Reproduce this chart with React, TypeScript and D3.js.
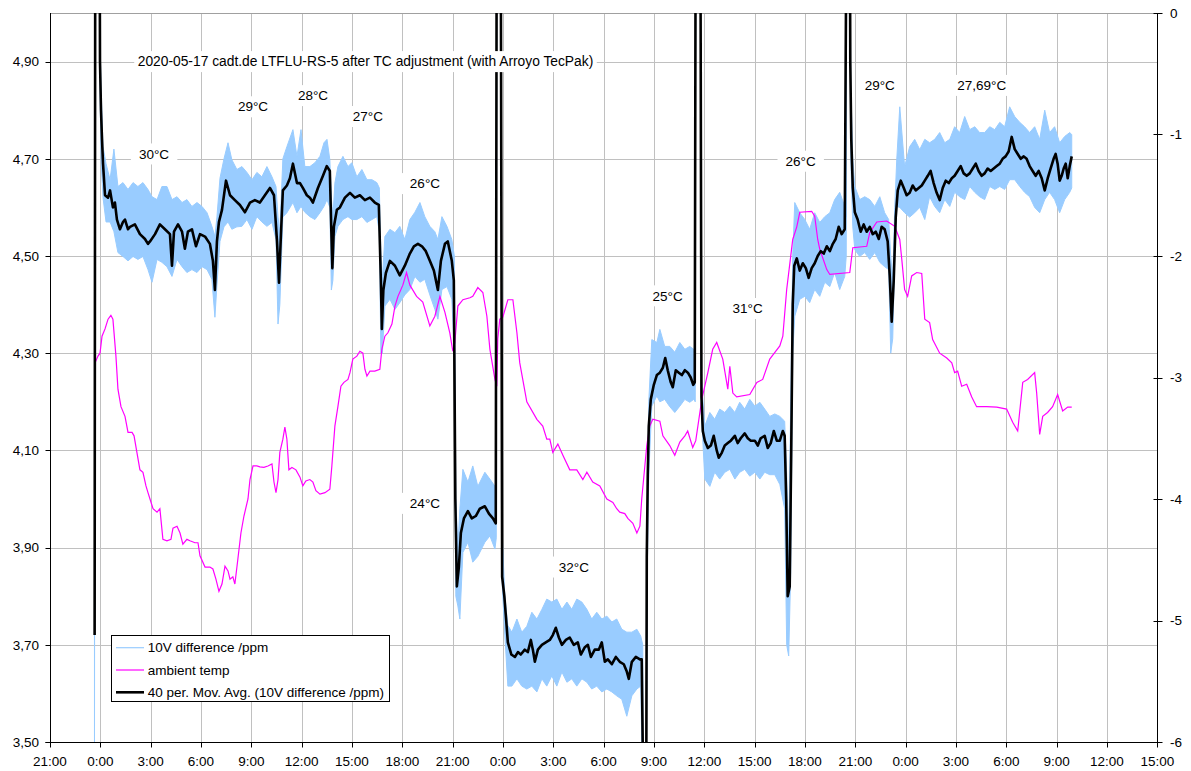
import React, { useEffect, useRef } from 'react';
import * as d3 from 'd3';

const W = 1191;
const H = 771;
const PLOT = { left: 50, right: 1157.3, top: 13, bottom: 742 };

// hours since 2020-05-16 21:00
const xTicks: number[] = d3.range(0, 67, 3);
const leftTicks: number[] = [3.5, 3.7, 3.9, 4.1, 4.3, 4.5, 4.7, 4.9];
const rightTicks: number[] = [0, -1, -2, -3, -4, -5, -6];

const titleText = '2020-05-17 cadt.de LTFLU-RS-5 after TC adjustment (with Arroyo TecPak)';
const titleAnchor: [number, number] = [5.23, 4.9];

// [label, hour, value]
const annotations: [string, number, number][] = [
  ['30°C', 5.3, 4.71],
  ['29°C', 11.2, 4.807],
  ['28°C', 14.78, 4.83],
  ['27°C', 18.05, 4.787],
  ['26°C', 21.45, 4.649],
  ['24°C', 21.45, 3.991],
  ['32°C', 30.33, 3.86],
  ['25°C', 35.91, 4.418],
  ['31°C', 40.68, 4.392],
  ['26°C', 43.84, 4.695],
  ['29°C', 48.56, 4.851],
  ['27,69°C', 54.08, 4.851],
];

// 40 per. moving average: [hour, ppm]
const movingAvg: [number, number][] = [
  [2.66, 3.72], [2.7, 5.3], [2.95, 5.3], [2.98, 4.9], [3.04, 4.8], [3.1, 4.74], [3.16, 4.69],
  [3.28, 4.625], [3.46, 4.62], [3.58, 4.635], [3.75, 4.6], [3.87, 4.61], [3.99, 4.575],
  [4.17, 4.555], [4.35, 4.57], [4.47, 4.575], [4.65, 4.555], [4.77, 4.56], [5.06, 4.565],
  [5.36, 4.545], [5.66, 4.535], [5.84, 4.525], [5.96, 4.53], [6.26, 4.545], [6.55, 4.565],
  [6.85, 4.555], [7.15, 4.545], [7.27, 4.48], [7.39, 4.55], [7.63, 4.565], [7.87, 4.55],
  [8.04, 4.515], [8.22, 4.55], [8.46, 4.555], [8.7, 4.52], [8.94, 4.545], [9.24, 4.54],
  [9.53, 4.525], [9.71, 4.49], [9.83, 4.43], [9.95, 4.53], [10.07, 4.57], [10.25, 4.595],
  [10.49, 4.655], [10.73, 4.625], [11.02, 4.615], [11.32, 4.605], [11.62, 4.59], [11.92, 4.61],
  [12.21, 4.615], [12.51, 4.61], [12.81, 4.625], [13.11, 4.64], [13.35, 4.625], [13.53, 4.53],
  [13.65, 4.445], [13.76, 4.54], [13.88, 4.635], [14.12, 4.645], [14.3, 4.66], [14.48, 4.69],
  [14.72, 4.65], [14.9, 4.65], [15.07, 4.64], [15.31, 4.625], [15.49, 4.62], [15.67, 4.61],
  [15.97, 4.64], [16.27, 4.665], [16.5, 4.685], [16.68, 4.675], [16.77, 4.55], [16.83, 4.475],
  [16.92, 4.56], [17.1, 4.595], [17.28, 4.6], [17.58, 4.62], [17.88, 4.63], [18.17, 4.62],
  [18.47, 4.625], [18.77, 4.615], [19.07, 4.62], [19.36, 4.61], [19.6, 4.605], [19.72, 4.45],
  [19.78, 4.35], [19.87, 4.43], [20.02, 4.465], [20.26, 4.49], [20.56, 4.48], [20.85, 4.46],
  [21.15, 4.48], [21.45, 4.505], [21.69, 4.52], [21.93, 4.525], [22.17, 4.52], [22.4, 4.51],
  [22.64, 4.49], [22.88, 4.47], [23.12, 4.43], [23.3, 4.49], [23.54, 4.525], [23.71, 4.53],
  [23.95, 4.49], [24.07, 4.45], [24.16, 4.0], [24.25, 3.82], [24.37, 3.86], [24.49, 3.93],
  [24.67, 3.96], [24.91, 3.975], [25.14, 3.96], [25.38, 3.965], [25.62, 3.98], [25.92, 3.985],
  [26.16, 3.97], [26.4, 3.96], [26.57, 3.95], [26.63, 5.3], [26.86, 5.3], [26.95, 3.84],
  [27.08, 3.8], [27.17, 3.76], [27.29, 3.705], [27.5, 3.68], [27.71, 3.675], [27.89, 3.685],
  [28.06, 3.68], [28.3, 3.69], [28.48, 3.685], [28.66, 3.71], [28.78, 3.69], [28.9, 3.665],
  [29.08, 3.69], [29.32, 3.7], [29.55, 3.705], [29.79, 3.71], [29.97, 3.72], [30.15, 3.735],
  [30.33, 3.715], [30.51, 3.7], [30.75, 3.71], [30.98, 3.715], [31.22, 3.7], [31.46, 3.705],
  [31.64, 3.68], [31.88, 3.695], [32.06, 3.7], [32.24, 3.675], [32.47, 3.69], [32.71, 3.69],
  [32.89, 3.705], [33.07, 3.665], [33.25, 3.67], [33.49, 3.66], [33.73, 3.675], [33.96, 3.665],
  [34.2, 3.66], [34.38, 3.645], [34.5, 3.63], [34.68, 3.665], [34.92, 3.675], [35.16, 3.67],
  [35.27, 3.67], [35.36, 3.4], [35.54, 3.4], [35.57, 3.88], [35.63, 4.05], [35.69, 4.15],
  [35.81, 4.205], [35.99, 4.235], [36.17, 4.255], [36.35, 4.26], [36.53, 4.27], [36.67, 4.29],
  [36.82, 4.265], [37.0, 4.24], [37.12, 4.23], [37.3, 4.265], [37.48, 4.26], [37.66, 4.255],
  [37.84, 4.265], [38.02, 4.26], [38.19, 4.25], [38.34, 4.235], [38.43, 4.24], [38.49, 5.3],
  [38.76, 5.3], [38.83, 4.21], [38.91, 4.14], [39.03, 4.12], [39.21, 4.105], [39.39, 4.11],
  [39.56, 4.13], [39.74, 4.1], [39.86, 4.085], [40.04, 4.095], [40.22, 4.11], [40.4, 4.115],
  [40.58, 4.12], [40.82, 4.13], [40.99, 4.115], [41.17, 4.125], [41.41, 4.135], [41.59, 4.125],
  [41.77, 4.12], [42.01, 4.12], [42.19, 4.11], [42.36, 4.125], [42.6, 4.13], [42.78, 4.105],
  [42.96, 4.115], [43.14, 4.14], [43.32, 4.12], [43.5, 4.12], [43.68, 4.14], [43.79, 4.13],
  [43.88, 4.0], [43.97, 3.8], [44.09, 3.82], [44.18, 4.1], [44.27, 4.4], [44.36, 4.48],
  [44.51, 4.495], [44.69, 4.47], [44.87, 4.485], [45.05, 4.475], [45.22, 4.455], [45.4, 4.475],
  [45.58, 4.485], [45.76, 4.5], [45.94, 4.51], [46.12, 4.505], [46.3, 4.52], [46.48, 4.51],
  [46.66, 4.525], [46.83, 4.535], [47.01, 4.56], [47.19, 4.545], [47.37, 4.555], [47.49, 5.3],
  [47.67, 5.3], [47.7, 4.9], [47.76, 4.74], [47.85, 4.64], [47.97, 4.59], [48.14, 4.575],
  [48.32, 4.55], [48.5, 4.565], [48.68, 4.55], [48.86, 4.56], [49.04, 4.545], [49.22, 4.55],
  [49.4, 4.535], [49.57, 4.56], [49.75, 4.555], [49.93, 4.53], [50.05, 4.46], [50.17, 4.365],
  [50.29, 4.45], [50.41, 4.58], [50.53, 4.635], [50.71, 4.655], [50.89, 4.64], [51.06, 4.625],
  [51.24, 4.63], [51.42, 4.645], [51.6, 4.635], [51.78, 4.64], [51.96, 4.645], [52.14, 4.655],
  [52.32, 4.665], [52.49, 4.675], [52.67, 4.65], [52.85, 4.63], [53.03, 4.615], [53.21, 4.64],
  [53.39, 4.655], [53.57, 4.65], [53.75, 4.66], [53.92, 4.665], [54.1, 4.675], [54.28, 4.685],
  [54.46, 4.67], [54.64, 4.665], [54.82, 4.67], [55.0, 4.68], [55.18, 4.69], [55.35, 4.675],
  [55.53, 4.665], [55.71, 4.67], [55.89, 4.68], [56.07, 4.675], [56.25, 4.68], [56.43, 4.685],
  [56.61, 4.69], [56.78, 4.7], [56.96, 4.705], [57.14, 4.715], [57.32, 4.745], [57.5, 4.72],
  [57.68, 4.71], [57.86, 4.7], [58.04, 4.705], [58.21, 4.7], [58.39, 4.685], [58.57, 4.675],
  [58.75, 4.665], [58.93, 4.675], [59.11, 4.66], [59.29, 4.635], [59.47, 4.66], [59.64, 4.68],
  [59.82, 4.7], [59.94, 4.71], [60.06, 4.69], [60.18, 4.655], [60.3, 4.665], [60.42, 4.68],
  [60.54, 4.69], [60.66, 4.66], [60.78, 4.685], [60.9, 4.705],
];

// 10V difference /ppm, spread of the raw readings: [hour, high, low]
const rawSpread: [number, number, number][] = [
  [2.65, 3.72, 3.4], [2.7, 5.3, 5.3], [2.95, 5.3, 5.3], [2.98, 4.95, 4.85], [3.04, 4.85, 4.7],
  [3.16, 4.725, 4.62], [3.34, 4.69, 4.57], [3.58, 4.657, 4.57], [3.81, 4.72, 4.55],
  [4.05, 4.643, 4.507], [4.35, 4.651, 4.499], [4.65, 4.637, 4.49], [4.95, 4.651, 4.499],
  [5.24, 4.643, 4.493], [5.54, 4.651, 4.499], [5.84, 4.637, 4.472], [6.08, 4.622, 4.446],
  [6.38, 4.616, 4.493], [6.67, 4.643, 4.487], [6.97, 4.643, 4.478], [7.27, 4.616, 4.458],
  [7.57, 4.622, 4.493], [7.87, 4.61, 4.478], [8.16, 4.616, 4.466], [8.46, 4.602, 4.472],
  [8.76, 4.61, 4.466], [9.06, 4.602, 4.478], [9.36, 4.589, 4.472], [9.65, 4.561, 4.452],
  [9.83, 4.54, 4.374], [9.95, 4.58, 4.44], [10.13, 4.66, 4.53], [10.37, 4.7, 4.56],
  [10.61, 4.733, 4.57], [10.84, 4.698, 4.555], [11.14, 4.678, 4.56], [11.44, 4.684, 4.561],
  [11.74, 4.672, 4.575], [12.04, 4.657, 4.555], [12.33, 4.672, 4.581], [12.63, 4.663, 4.57],
  [12.93, 4.684, 4.561], [13.23, 4.663, 4.569], [13.47, 4.643, 4.534], [13.59, 4.58, 4.36],
  [13.7, 4.55, 4.4], [13.88, 4.7, 4.58], [14.12, 4.725, 4.589], [14.48, 4.76, 4.61],
  [14.72, 4.705, 4.589], [14.96, 4.76, 4.602], [15.19, 4.684, 4.59], [15.49, 4.684, 4.581],
  [15.79, 4.692, 4.575], [16.09, 4.705, 4.589], [16.33, 4.733, 4.602], [16.51, 4.74, 4.616],
  [16.68, 4.698, 4.6], [16.77, 4.62, 4.43], [16.86, 4.58, 4.45], [16.98, 4.65, 4.54],
  [17.16, 4.684, 4.561], [17.46, 4.705, 4.575], [17.76, 4.684, 4.581], [17.99, 4.692, 4.575],
  [18.29, 4.663, 4.575], [18.59, 4.678, 4.581], [18.89, 4.657, 4.569], [19.19, 4.657, 4.575],
  [19.48, 4.651, 4.581], [19.63, 4.64, 4.55], [19.72, 4.5, 4.3], [19.81, 4.45, 4.3],
  [19.96, 4.54, 4.397], [20.26, 4.555, 4.411], [20.56, 4.548, 4.39], [20.85, 4.561, 4.404],
  [21.15, 4.534, 4.42], [21.45, 4.575, 4.431], [21.75, 4.59, 4.458], [22.05, 4.61, 4.446],
  [22.34, 4.581, 4.452], [22.64, 4.561, 4.42], [22.94, 4.55, 4.39], [23.12, 4.534, 4.37],
  [23.36, 4.581, 4.431], [23.66, 4.561, 4.437], [23.95, 4.534, 4.411], [24.1, 4.5, 4.3],
  [24.19, 4.0, 3.8], [24.31, 3.9, 3.78], [24.43, 3.98, 3.753], [24.61, 4.061, 3.89],
  [24.91, 4.035, 3.911], [25.2, 4.068, 3.87], [25.5, 4.026, 3.882], [25.92, 4.055, 3.911],
  [26.22, 4.041, 3.924], [26.52, 4.026, 3.897], [26.6, 4.0, 3.92], [26.63, 5.3, 5.3],
  [26.86, 5.3, 5.3], [26.96, 3.92, 3.82], [27.11, 3.8, 3.72], [27.29, 3.74, 3.615],
  [27.53, 3.726, 3.615], [27.83, 3.753, 3.63], [28.12, 3.726, 3.615], [28.42, 3.738, 3.609],
  [28.72, 3.767, 3.615], [29.02, 3.753, 3.603], [29.32, 3.773, 3.63], [29.61, 3.794, 3.615],
  [29.91, 3.788, 3.636], [30.21, 3.794, 3.615], [30.51, 3.773, 3.644], [30.81, 3.788, 3.623],
  [31.1, 3.773, 3.63], [31.4, 3.794, 3.615], [31.7, 3.788, 3.63], [32.0, 3.773, 3.623],
  [32.29, 3.753, 3.609], [32.59, 3.767, 3.615], [32.89, 3.753, 3.603], [33.19, 3.759, 3.609],
  [33.49, 3.747, 3.603], [33.78, 3.753, 3.595], [34.08, 3.732, 3.588], [34.38, 3.726, 3.553],
  [34.68, 3.726, 3.595], [34.98, 3.732, 3.609], [35.21, 3.718, 3.615], [35.33, 3.7, 3.4],
  [35.36, 3.4, 3.4], [35.54, 3.4, 3.4], [35.6, 3.95, 3.85], [35.69, 4.2, 4.05],
  [35.87, 4.328, 4.191], [36.17, 4.322, 4.212], [36.35, 4.349, 4.2], [36.64, 4.314, 4.205],
  [36.94, 4.314, 4.19], [37.24, 4.302, 4.178], [37.54, 4.322, 4.191], [37.84, 4.308, 4.205],
  [38.13, 4.314, 4.199], [38.37, 4.308, 4.205], [38.46, 4.28, 4.2], [38.49, 5.3, 5.3],
  [38.76, 5.3, 5.3], [38.82, 4.25, 4.18], [39.03, 4.15, 4.041], [39.33, 4.178, 4.026],
  [39.62, 4.164, 4.055], [39.92, 4.185, 4.041], [40.22, 4.178, 4.055], [40.52, 4.191, 4.061],
  [40.82, 4.178, 4.041], [41.11, 4.199, 4.055], [41.41, 4.185, 4.061], [41.71, 4.205, 4.047],
  [42.01, 4.191, 4.055], [42.31, 4.199, 4.041], [42.6, 4.185, 4.055], [42.9, 4.17, 4.05],
  [43.2, 4.175, 4.05], [43.5, 4.17, 4.03], [43.79, 4.16, 3.98], [43.91, 4.05, 3.7],
  [44.03, 3.9, 3.677], [44.15, 4.2, 3.85], [44.27, 4.5, 4.3], [44.39, 4.61, 4.376],
  [44.69, 4.589, 4.411], [44.99, 4.575, 4.417], [45.28, 4.555, 4.404], [45.58, 4.589, 4.431],
  [45.88, 4.569, 4.417], [46.18, 4.581, 4.446], [46.48, 4.589, 4.437], [46.77, 4.616, 4.466],
  [47.07, 4.631, 4.431], [47.37, 4.602, 4.458], [47.46, 4.58, 4.5], [47.49, 5.3, 5.3],
  [47.67, 5.3, 5.3], [47.73, 4.85, 4.7], [47.85, 4.7, 4.56], [47.97, 4.643, 4.513],
  [48.26, 4.616, 4.499], [48.56, 4.622, 4.507], [48.86, 4.616, 4.493], [49.16, 4.602, 4.507],
  [49.46, 4.622, 4.487], [49.75, 4.589, 4.478], [49.99, 4.575, 4.472], [50.11, 4.5, 4.3],
  [50.23, 4.45, 4.33], [50.35, 4.6, 4.5], [50.47, 4.698, 4.602], [50.65, 4.807, 4.6],
  [50.94, 4.684, 4.589], [51.24, 4.725, 4.58], [51.54, 4.74, 4.589], [51.84, 4.719, 4.6],
  [52.14, 4.74, 4.575], [52.43, 4.733, 4.622], [52.73, 4.74, 4.602], [53.03, 4.754, 4.589],
  [53.33, 4.733, 4.616], [53.63, 4.74, 4.602], [53.92, 4.766, 4.631], [54.22, 4.754, 4.622],
  [54.52, 4.787, 4.616], [54.82, 4.76, 4.643], [55.12, 4.766, 4.631], [55.41, 4.754, 4.622],
  [55.71, 4.754, 4.616], [56.01, 4.766, 4.643], [56.31, 4.76, 4.637], [56.61, 4.775, 4.643],
  [56.9, 4.766, 4.637], [57.2, 4.807, 4.657], [57.5, 4.787, 4.657], [57.8, 4.775, 4.643],
  [58.09, 4.766, 4.631], [58.39, 4.754, 4.622], [58.69, 4.766, 4.6], [58.99, 4.74, 4.589],
  [59.29, 4.8, 4.616], [59.58, 4.754, 4.631], [59.88, 4.766, 4.616], [60.18, 4.733, 4.589],
  [60.48, 4.746, 4.616], [60.78, 4.754, 4.631], [60.9, 4.75, 4.64],
];

// ambient temp (plotted on the left scale): [hour, value]
const ambientTemp: [number, number][] = [
  [2.68, 4.28], [2.86, 4.294], [2.98, 4.3], [3.1, 4.335], [3.28, 4.35], [3.46, 4.37], [3.63, 4.378],
  [3.75, 4.37], [3.93, 4.294], [4.05, 4.226], [4.23, 4.19], [4.47, 4.17], [4.65, 4.137],
  [4.89, 4.137], [5.01, 4.13], [5.18, 4.096], [5.36, 4.06], [5.54, 4.055], [5.72, 4.027],
  [5.84, 4.013], [5.96, 4.0], [6.14, 3.98], [6.38, 3.973], [6.55, 3.98], [6.73, 3.917],
  [6.97, 3.914], [7.21, 3.917], [7.33, 3.94], [7.57, 3.944], [7.75, 3.93], [7.92, 3.907],
  [8.16, 3.917], [8.34, 3.914], [8.64, 3.91], [8.82, 3.91], [8.94, 3.883], [9.24, 3.86],
  [9.53, 3.86], [9.71, 3.856], [9.89, 3.835], [10.07, 3.81], [10.25, 3.825], [10.43, 3.862],
  [10.61, 3.852], [10.73, 3.835], [10.9, 3.84], [11.02, 3.825], [11.2, 3.877], [11.38, 3.93],
  [11.56, 3.965], [11.8, 4.0], [11.92, 4.04], [12.1, 4.068], [12.33, 4.068], [12.51, 4.066],
  [12.75, 4.065], [12.99, 4.068], [13.23, 4.072], [13.35, 4.035], [13.47, 4.013], [13.59, 4.04],
  [13.7, 4.096], [13.88, 4.123], [14.0, 4.148], [14.12, 4.123], [14.24, 4.06], [14.42, 4.065],
  [14.66, 4.06], [14.9, 4.045], [15.07, 4.027], [15.25, 4.037], [15.49, 4.04], [15.67, 4.035],
  [15.85, 4.017], [16.09, 4.01], [16.39, 4.013], [16.68, 4.02], [16.8, 4.068], [16.98, 4.15],
  [17.16, 4.19], [17.34, 4.232], [17.52, 4.24], [17.76, 4.246], [17.88, 4.26], [18.05, 4.288],
  [18.29, 4.294], [18.47, 4.304], [18.65, 4.3], [18.77, 4.267], [18.89, 4.253], [19.07, 4.263],
  [19.36, 4.263], [19.66, 4.267], [19.78, 4.308], [19.96, 4.335], [20.14, 4.342], [20.38, 4.36],
  [20.56, 4.397], [20.74, 4.417], [21.03, 4.44], [21.25, 4.466], [21.45, 4.44], [21.85, 4.417],
  [22.22, 4.405], [22.64, 4.356], [22.94, 4.376], [23.24, 4.417], [23.54, 4.384], [23.83, 4.342],
  [24.01, 4.304], [24.13, 4.322], [24.31, 4.397], [24.61, 4.41], [25.03, 4.414], [25.2, 4.417],
  [25.5, 4.435], [25.8, 4.425], [26.04, 4.376], [26.22, 4.308], [26.52, 4.246], [26.63, 4.232],
  [26.69, 4.33], [26.81, 4.37], [26.99, 4.374], [27.29, 4.41], [27.59, 4.41], [27.83, 4.342],
  [28.0, 4.28], [28.42, 4.2], [29.02, 4.164], [29.37, 4.15], [29.61, 4.123], [29.79, 4.123],
  [29.97, 4.096], [30.27, 4.113], [30.57, 4.09], [30.98, 4.06], [31.4, 4.06], [31.76, 4.04],
  [32.0, 4.055], [32.35, 4.035], [32.77, 4.027], [33.19, 4.0], [33.55, 3.993], [33.78, 3.98],
  [33.96, 3.973], [34.26, 3.97], [34.44, 3.96], [34.74, 3.95], [34.98, 3.93], [35.16, 3.944],
  [35.27, 4.0], [35.57, 4.11], [35.75, 4.15], [35.93, 4.164], [36.35, 4.16], [36.53, 4.13],
  [36.94, 4.11], [37.24, 4.09], [37.54, 4.117], [37.84, 4.13], [38.01, 4.14], [38.31, 4.106],
  [38.49, 4.12], [38.85, 4.205], [39.21, 4.26], [39.5, 4.308], [39.74, 4.322], [40.1, 4.288],
  [40.4, 4.226], [40.52, 4.273], [40.7, 4.218], [40.93, 4.21], [41.71, 4.215], [42.13, 4.24],
  [42.48, 4.246], [42.9, 4.288], [43.5, 4.315], [43.68, 4.335], [43.91, 4.431], [44.27, 4.534],
  [44.51, 4.56], [44.69, 4.59], [45.4, 4.592], [45.58, 4.582], [45.76, 4.534], [45.88, 4.514],
  [46.3, 4.472], [46.48, 4.462], [47.67, 4.466], [47.79, 4.5], [47.85, 4.517], [48.68, 4.52],
  [48.86, 4.548], [49.28, 4.57], [49.87, 4.572], [50.35, 4.561], [50.65, 4.534], [50.77, 4.493],
  [50.94, 4.431], [51.12, 4.417], [51.36, 4.459], [51.66, 4.466], [51.96, 4.464], [52.14, 4.37],
  [52.43, 4.363], [52.61, 4.328], [53.03, 4.3], [53.45, 4.29], [53.75, 4.28], [53.92, 4.26],
  [54.1, 4.263], [54.34, 4.232], [54.64, 4.236], [54.94, 4.21], [55.23, 4.19], [55.83, 4.19],
  [56.43, 4.189], [57.02, 4.185], [57.38, 4.158], [57.68, 4.14], [57.98, 4.24], [58.27, 4.246],
  [58.69, 4.26], [58.81, 4.218], [58.99, 4.133], [59.17, 4.17], [59.46, 4.178], [59.76, 4.19],
  [60.06, 4.215], [60.36, 4.181], [60.66, 4.189], [60.9, 4.189],
];

const legendLabels: string[] = [
  '10V difference /ppm',
  'ambient temp',
  '40 per. Mov. Avg. (10V difference /ppm)',
];

const COLORS = { raw: '#99ccff', temp: '#ff00ff', avg: '#000000', grid: '#c0c0c0', frame: '#a0a0a0' };
const FONT = "'Liberation Sans', Arial, sans-serif";
const FS = 13.5;
const FS_TITLE = 13.8;

export default function App() {
  const ref = useRef<SVGSVGElement | null>(null);

  useEffect(() => {
    if (!ref.current) return;
    const svg = d3.select(ref.current);
    svg.selectAll('*').remove();

    const x = d3.scaleLinear().domain([0, 66]).range([PLOT.left, PLOT.right]);
    const yL = d3.scaleLinear().domain([3.5, 5.0]).range([PLOT.bottom, PLOT.top]);
    const yR = d3.scaleLinear().domain([-6, 0]).range([PLOT.bottom, PLOT.top]);
    const crisp = (v: number) => Math.round(v) + 0.5;

    svg.append('rect').attr('width', W).attr('height', H).attr('fill', '#fff');

    svg.append('defs').append('clipPath').attr('id', 'plotclip')
      .append('rect')
      .attr('x', PLOT.left).attr('y', PLOT.top)
      .attr('width', PLOT.right - PLOT.left).attr('height', PLOT.bottom - PLOT.top);

    // gridlines
    const grid = svg.append('g');
    grid.selectAll('line.v').data(xTicks.slice(1, -1)).join('line')
      .attr('x1', (d) => crisp(x(d))).attr('x2', (d) => crisp(x(d)))
      .attr('y1', PLOT.top).attr('y2', PLOT.bottom)
      .attr('stroke', COLORS.grid).attr('stroke-width', 1);
    grid.selectAll('line.h').data(leftTicks.slice(1)).join('line')
      .attr('x1', PLOT.left).attr('x2', PLOT.right)
      .attr('y1', (d) => crisp(yL(d))).attr('y2', (d) => crisp(yL(d)))
      .attr('stroke', COLORS.grid).attr('stroke-width', 1);
    grid.append('line')
      .attr('x1', PLOT.left).attr('x2', PLOT.right)
      .attr('y1', crisp(PLOT.top)).attr('y2', crisp(PLOT.top))
      .attr('stroke', COLORS.frame).attr('stroke-width', 1);

    const data = svg.append('g').attr('clip-path', 'url(#plotclip)');

    const band = d3.area<[number, number, number]>()
      .x((d) => x(d[0]))
      .y0((d) => yL(d[2]))
      .y1((d) => yL(d[1]));
    data.append('path').attr('d', band(rawSpread) || '')
      .attr('fill', COLORS.raw).attr('stroke', COLORS.raw).attr('stroke-width', 1);

    const line = d3.line<[number, number]>().x((d) => x(d[0])).y((d) => yL(d[1]));
    data.append('path').attr('d', line(ambientTemp) || '')
      .attr('fill', 'none').attr('stroke', COLORS.temp).attr('stroke-width', 1.2);
    data.append('path').attr('d', line(movingAvg) || '')
      .attr('fill', 'none').attr('stroke', COLORS.avg).attr('stroke-width', 2.6)
      .attr('stroke-linejoin', 'round');

    // axes
    const ax = svg.append('g').attr('stroke', '#000').attr('stroke-width', 1);
    ax.append('line').attr('x1', crisp(PLOT.left)).attr('x2', crisp(PLOT.left))
      .attr('y1', PLOT.top).attr('y2', crisp(PLOT.bottom));
    ax.append('line').attr('x1', crisp(PLOT.right)).attr('x2', crisp(PLOT.right))
      .attr('y1', PLOT.top).attr('y2', crisp(PLOT.bottom));
    ax.append('line').attr('x1', crisp(PLOT.left) - 5).attr('x2', crisp(PLOT.right))
      .attr('y1', crisp(PLOT.bottom)).attr('y2', crisp(PLOT.bottom));

    ax.selectAll('line.xt').data(xTicks).join('line')
      .attr('x1', (d) => crisp(x(d))).attr('x2', (d) => crisp(x(d)))
      .attr('y1', crisp(PLOT.bottom)).attr('y2', crisp(PLOT.bottom) + 5);
    ax.selectAll('line.lt').data(leftTicks).join('line')
      .attr('x1', crisp(PLOT.left) - 5).attr('x2', crisp(PLOT.left))
      .attr('y1', (d) => crisp(yL(d))).attr('y2', (d) => crisp(yL(d)));
    ax.selectAll('line.rt').data(rightTicks).join('line')
      .attr('x1', crisp(PLOT.right) - 4).attr('x2', crisp(PLOT.right) + 5)
      .attr('y1', (d) => crisp(yR(d))).attr('y2', (d) => crisp(yR(d)));

    const txt = svg.append('g').attr('font-family', FONT).attr('font-size', FS).attr('fill', '#000');
    txt.selectAll('text.xl').data(xTicks).join('text')
      .attr('x', (d) => x(d)).attr('y', 766).attr('text-anchor', 'middle')
      .text((d) => `${(21 + d) % 24}:00`);
    txt.selectAll('text.ll').data(leftTicks).join('text')
      .attr('x', 39).attr('y', (d) => yL(d) + 4.7).attr('text-anchor', 'end')
      .text((d) => d.toFixed(2).replace('.', ','));
    txt.selectAll('text.rl').data(rightTicks).join('text')
      .attr('x', 1170).attr('y', (d) => yR(d) + 4.7).attr('text-anchor', 'start')
      .text((d) => String(d));

    // annotations with white boxes
    const addLabel = (s: string, t: number, v: number, padX: number, fs: number) => {
      const g = svg.append('g');
      const rect = g.append('rect').attr('fill', '#fff');
      const te = g.append('text').attr('font-family', FONT).attr('font-size', fs)
        .attr('fill', '#000').attr('x', x(t)).attr('y', yL(v) + 4.7).text(s);
      const bb = (te.node() as SVGTextElement).getBBox();
      rect.attr('x', bb.x - padX).attr('y', yL(v) - 10.5)
        .attr('width', bb.width + 2 * padX).attr('height', 21);
    };
    addLabel(titleText, titleAnchor[0], titleAnchor[1], 3.5, FS_TITLE);
    annotations.forEach(([s, t, v]) => addLabel(s, t, v, 8, FS));

    // legend
    const lg = svg.append('g');
    lg.append('rect').attr('x', 111.5).attr('y', 635.5).attr('width', 278).attr('height', 66)
      .attr('fill', '#fff').attr('stroke', '#000').attr('stroke-width', 1);
    const legendStyles = [
      { c: COLORS.raw, w: 1.2 },
      { c: COLORS.temp, w: 1.2 },
      { c: COLORS.avg, w: 2.6 },
    ];
    legendLabels.forEach((s, i) => {
      const cy = 647.7 + i * 22.3;
      lg.append('line').attr('x1', 116).attr('x2', 144).attr('y1', cy).attr('y2', cy)
        .attr('stroke', legendStyles[i].c).attr('stroke-width', legendStyles[i].w);
      lg.append('text').attr('x', 147.7).attr('y', cy + 4.7)
        .attr('font-family', FONT).attr('font-size', FS).attr('fill', '#000').text(s);
    });
  }, []);

  return (
    <svg
      ref={ref}
      width={W}
      height={H}
      style={{ position: 'absolute', left: 0, top: 0, display: 'block' }}
    />
  );
}
